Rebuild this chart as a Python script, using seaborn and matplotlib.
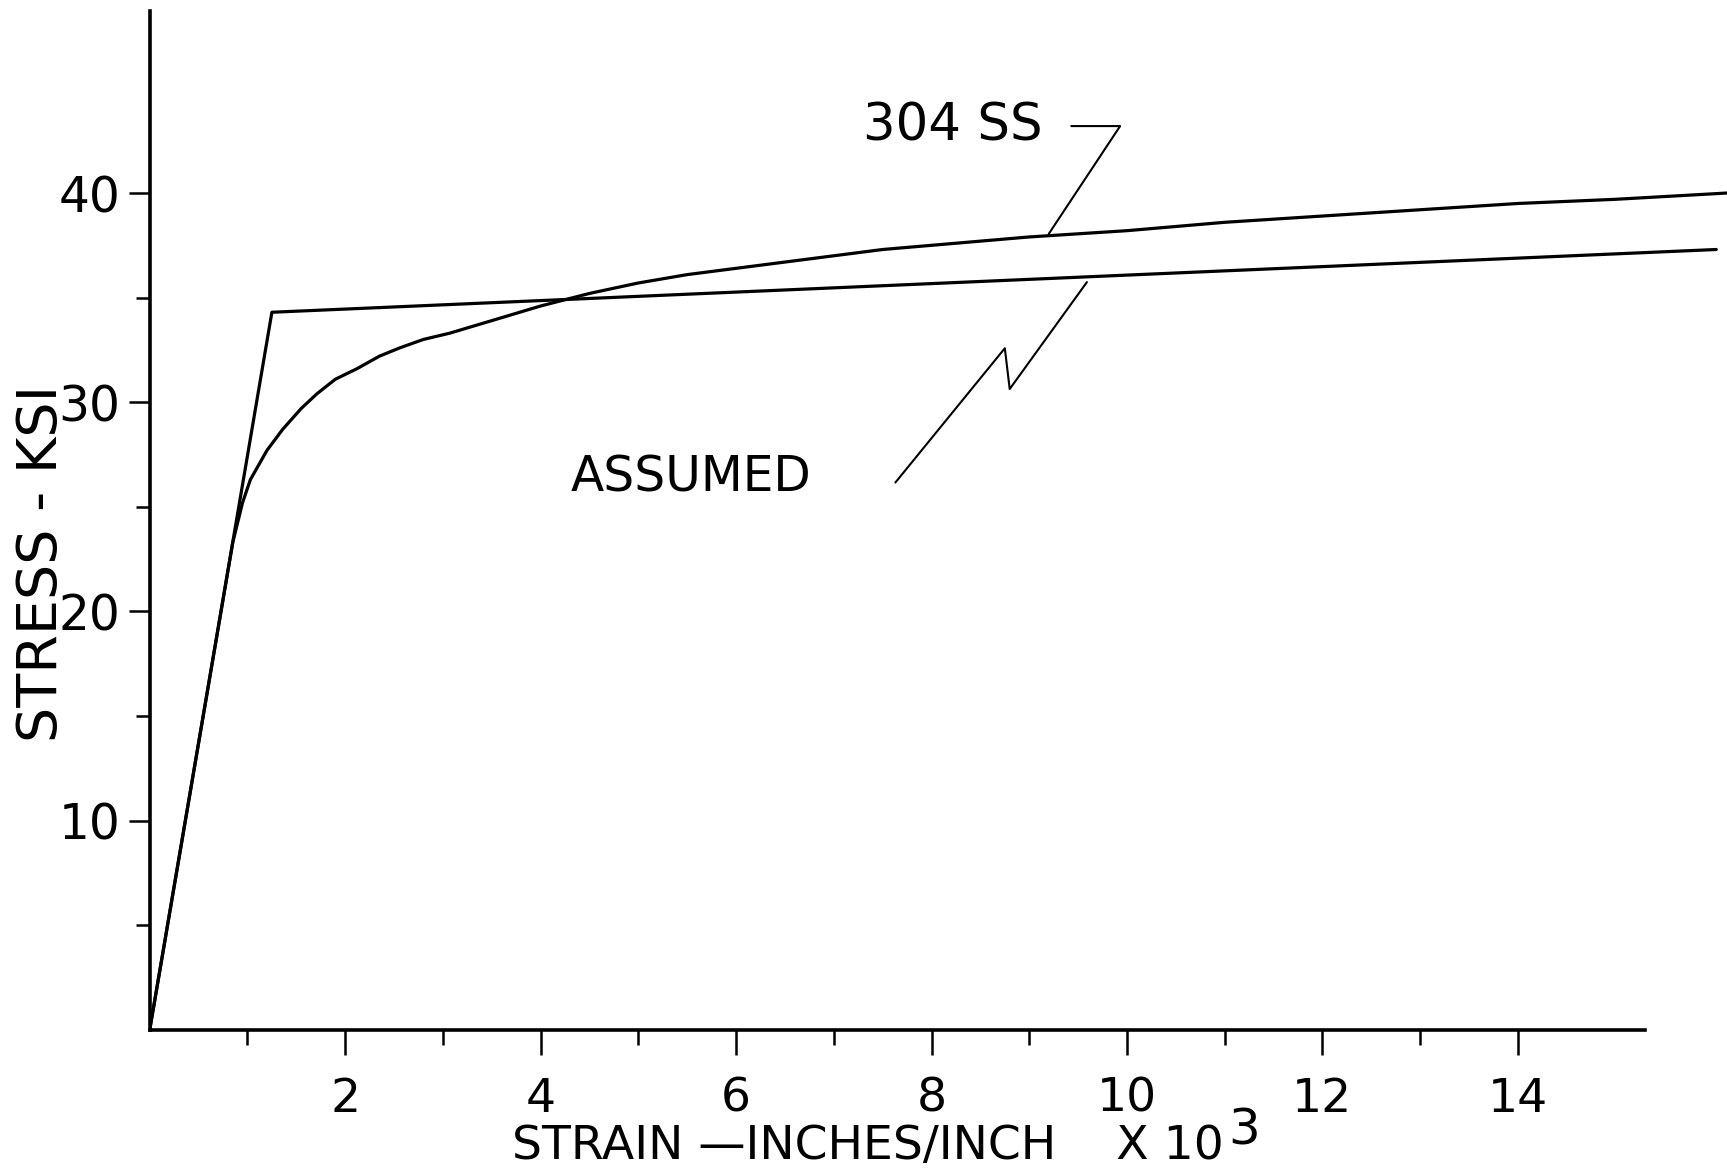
import numpy as np
import pandas as pd
import matplotlib
matplotlib.use('Agg')
import matplotlib.pyplot as plt
import seaborn as sns

# strain (in/in x 10^3) and stress (ksi)
ss304_strain = [0, 0.85, 0.95, 1.03, 1.2, 1.36, 1.55, 1.71, 1.9, 2.12, 2.35, 2.56, 2.8, 3.07,
                3.5, 4.0, 4.5, 5.0, 5.5, 6.0, 6.5, 7.0, 7.5, 8.0, 9.0, 10.0, 11.0, 12.0,
                13.0, 14.0, 15.0, 16.14]
ss304_stress = [0, 23.3, 25.2, 26.3, 27.7, 28.7, 29.7, 30.4, 31.1, 31.6, 32.2, 32.6, 33.0, 33.3,
                33.9, 34.6, 35.2, 35.7, 36.1, 36.4, 36.7, 37.0, 37.3, 37.5, 37.9, 38.2, 38.6, 38.9,
                39.2, 39.5, 39.7, 40.0]

assumed_strain = [0, 1.25, 16.03]
assumed_stress = [0, 34.3, 37.3]

x_major = [2, 4, 6, 8, 10, 12, 14]
x_minor = [1, 3, 5, 7, 9, 11, 13]
y_major = [10, 20, 30, 40]
y_minor = [5, 15, 25, 35]

# leader lines for the two labels
ss_leader_x = [9.43, 9.93, 9.20]
ss_leader_y = [43.2, 43.2, 38.05]
as_leader_x = [7.63, 8.75, 8.80, 9.59]
as_leader_y = [26.16, 32.58, 30.63, 35.74]

sns.set_style('ticks')
plt.rcParams['font.family'] = ['Liberation Sans Narrow', 'DejaVu Sans']
plt.rcParams['text.color'] = 'black'
plt.rcParams['axes.labelcolor'] = 'black'

df304 = pd.DataFrame({'strain': ss304_strain, 'stress': ss304_stress})
dfas = pd.DataFrame({'strain': assumed_strain, 'stress': assumed_stress})

fig = plt.figure(figsize=(17.27, 11.73), dpi=100)
ax = fig.add_axes([0.0867, 0.1221, 0.9133, 0.8685])

sns.lineplot(data=df304, x='strain', y='stress', ax=ax, color='black', lw=2.3,
             sort=False, estimator=None)
sns.lineplot(data=dfas, x='strain', y='stress', ax=ax, color='black', lw=2.3,
             sort=False, estimator=None)
ax.plot(ss_leader_x, ss_leader_y, color='black', lw=1.5)
ax.plot(as_leader_x, as_leader_y, color='black', lw=1.5)

ax.set_xlim(0, 16.14)
ax.set_ylim(0, 48.7)
ax.spines['top'].set_visible(False)
ax.spines['right'].set_visible(False)
ax.spines['bottom'].set_bounds(0, 15.3)
for s in ['left', 'bottom']:
    ax.spines[s].set_linewidth(2.6)
    ax.spines[s].set_color('black')

ax.set_xticks(x_major)
ax.set_xticks(x_minor, minor=True)
ax.set_yticks(y_major)
ax.set_yticks(y_minor, minor=True)
ax.tick_params(axis='x', which='major', length=18, width=1.8, pad=16, labelsize=34,
               colors='black')
ax.tick_params(axis='x', which='minor', length=11, width=1.8, colors='black')
ax.tick_params(axis='y', which='major', length=15, width=1.8, pad=6, labelsize=35,
               colors='black')
ax.tick_params(axis='y', which='minor', length=10, width=1.8, colors='black')
ax.set_xlabel('')
ax.set_ylabel('')

ax.text(8.22, 43.2, '304 SS', fontsize=37, ha='center', va='center', color='black')
ax.text(5.54, 26.4, 'ASSUMED', fontsize=35, ha='center', va='center', color='black')

ax.text(-1.1, 22.3, 'STRESS - KSI', fontsize=40, rotation=90, ha='center', va='center',
        clip_on=False, color='black')
xl = ax.text(3.71, -6.16, 'STRAIN —INCHES/INCH    X 10', fontsize=34, ha='left',
             va='baseline', clip_on=False, color='black')
ax.annotate('3', xy=(1, 0), xycoords=xl, xytext=(3, 10), textcoords='offset points',
            fontsize=36, ha='left', va='bottom', annotation_clip=False, color='black')

fig.savefig('out.png', dpi=100, facecolor='white')
